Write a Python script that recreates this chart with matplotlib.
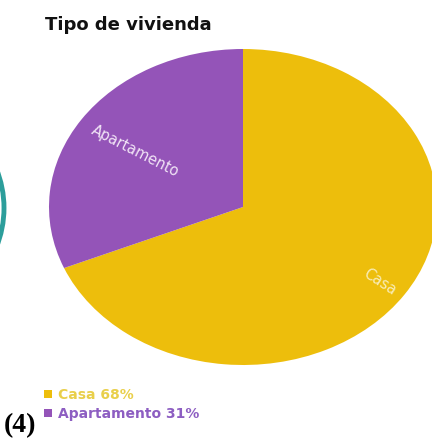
import matplotlib
matplotlib.use("Agg")
import matplotlib.pyplot as plt
from matplotlib.patches import Ellipse

# Data
categories = ["Casa", "Apartamento"]
values = [68, 31]
legend_pct = ["68%", "31%"]
colors = ["#EDBE0C", "#9454B8"]
legend_text_colors = ["#E9CF4A", "#8D5EC2"]
title = "Tipo de vivienda"
panel_tag = "(4)"

W, H = 432, 441
fig = plt.figure(figsize=(W / 100, H / 100), dpi=100)

# Pixel-space overlay for annotations
over = fig.add_axes([0, 0, 1, 1])
over.set_xlim(0, W)
over.set_ylim(H, 0)
over.axis("off")

# Pie axes, stretched to give the elliptical pie
cx, cy, a, b = 243, 207, 194, 158
pie_ax = fig.add_axes([(cx - a) / W, 1 - (cy + b) / H, 2 * a / W, 2 * b / H])
wedges, _ = pie_ax.pie(values, colors=colors, startangle=90, counterclock=False,
                       radius=1, wedgeprops=dict(linewidth=0))
pie_ax.set_aspect("auto")
pie_ax.set_xlim(-1, 1)
pie_ax.set_ylim(-1, 1)
pie_ax.axis("off")

# Slice labels, rotated along the radius
pie_ax.text((135 - cx) / a, (cy - 151) / b, categories[1], rotation=-27,
            ha="center", va="center", color="#F1E4F6", fontsize=10.5)
pie_ax.text((380 - cx) / a, (cy - 282) / b, categories[0], rotation=-33,
            ha="center", va="center", color="#F8EDB8", fontsize=10.5)

# Title
over.text(45, 30, title, fontsize=13, fontweight="bold", color="#111111",
          ha="left", va="baseline")

# Edge of neighbouring chart
over.add_patch(Ellipse((-100, 208), 208, 208, fill=False, edgecolor="#2C9E9B",
                       linewidth=3.5))

# Legend
leg = over.legend(wedges, [f"{c} {p}" for c, p in zip(categories, legend_pct)],
                  loc="upper left", bbox_to_anchor=(44, 388),
                  bbox_transform=over.transData, frameon=False,
                  handlelength=0.55, handleheight=0.55, handletextpad=0.45,
                  labelspacing=0.35, borderpad=0, borderaxespad=0,
                  prop=dict(size=10, weight="bold"))
for t, c in zip(leg.get_texts(), legend_text_colors):
    t.set_color(c)

# Panel tag
over.text(4, 432, panel_tag, fontsize=20, fontweight="bold",
          family="Liberation Serif", ha="left", va="baseline", color="black")

fig.savefig("out.png", dpi=100)
